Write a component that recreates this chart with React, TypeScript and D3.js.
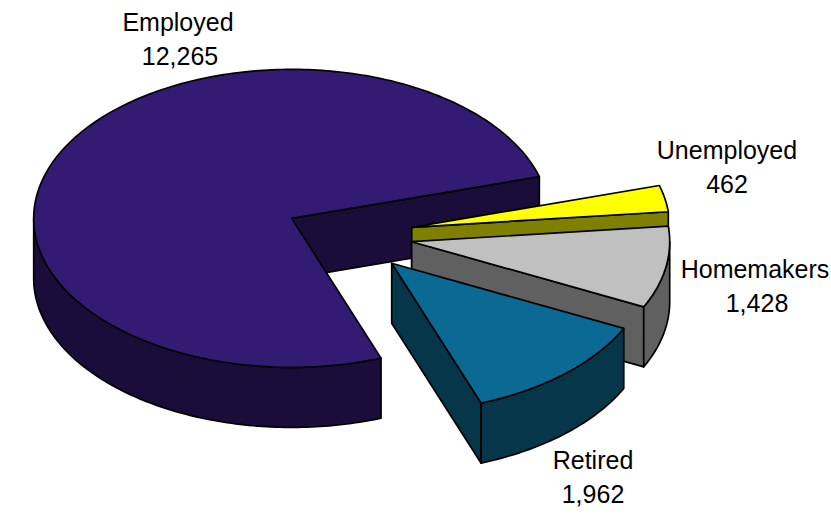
import React from "react";
import * as d3 from "d3";

const categories = ["Employed", "Retired", "Homemakers", "Unemployed"];
const values = [12265, 1962, 1428, 462];
const valueLabels = ["12,265", "1,962", "1,428", "462"];
const topColors = ["#331A73", "#0A6A94", "#C0C0C0", "#FFFF00"];
const wallColors = ["#1A0D3A", "#05364A", "#606060", "#808000"];
const centerX = [291.7, 391.7, 411.7, 411.7];
const centerY = [218.4, 263.3, 241.7, 227.3];
const labelX = [178, 593, 755, 727];
const valueX = [180, 593, 757, 727];
const labelY = [31, 469, 278, 159];
const paintOrder = [0, 3, 2, 1];

const WIDTH = 831;
const HEIGHT = 514;
const RX = 258;
const RY = 149;
const DEPTH = 60;
const START = (-16.3 * Math.PI) / 180;
const LINE_GAP = 33.5;

const pie = d3
  .pie<number>()
  .sort(null)
  .startAngle(START)
  .endAngle(START - 2 * Math.PI);
const arcs = pie(values);
const line = d3.line<[number, number]>();

function samples(from: number, to: number): number[] {
  const n = Math.max(2, Math.ceil((Math.abs(to - from) * 180) / Math.PI) + 1);
  return d3.range(n).map((i) => from + ((to - from) * i) / (n - 1));
}

function App() {
  return (
    <svg
      width={WIDTH}
      height={HEIGHT}
      style={{ position: "absolute", left: 0, top: 0, background: "#fff" }}
    >
      {paintOrder.map((i) => {
        const a = arcs[i];
        const cx = centerX[i];
        const cy = centerY[i];
        const at = (t: number, dy = 0): [number, number] => [
          cx + RX * Math.cos(t),
          cy + RY * Math.sin(t) + dy,
        ];
        const faces: string[] = [];
        const cut = (t: number) =>
          line([[cx, cy], at(t), at(t, DEPTH), [cx, cy + DEPTH]]) + "Z";
        if (Math.cos(a.startAngle) > 0) faces.push(cut(a.startAngle));
        if (Math.cos(a.endAngle) < 0) faces.push(cut(a.endAngle));
        const wFrom = Math.min(a.startAngle, -Math.PI);
        const wTo = Math.max(a.endAngle, -2 * Math.PI);
        if (wFrom > wTo) {
          const ts = samples(wFrom, wTo);
          const pts = [
            ...ts.map((t) => at(t)),
            ...ts.slice().reverse().map((t) => at(t, DEPTH)),
          ];
          faces.push(line(pts) + "Z");
        }
        const top =
          line([[cx, cy], ...samples(a.startAngle, a.endAngle).map((t) => at(t))]) + "Z";
        return (
          <g key={categories[i]} stroke="#000" strokeWidth={1.7} strokeLinejoin="round">
            {faces.map((d, j) => (
              <path key={j} d={d} fill={wallColors[i]} />
            ))}
            <path d={top} fill={topColors[i]} />
          </g>
        );
      })}
      {categories.map((c, i) => (
        <text
          key={c}
          textAnchor="middle"
          fontFamily="'Liberation Sans', Arial, sans-serif"
          fontSize={25}
          fill="#000"
        >
          <tspan x={labelX[i]} y={labelY[i]}>
            {c}
          </tspan>
          <tspan x={valueX[i]} y={labelY[i] + LINE_GAP}>
            {valueLabels[i]}
          </tspan>
        </text>
      ))}
    </svg>
  );
}

export default App;
